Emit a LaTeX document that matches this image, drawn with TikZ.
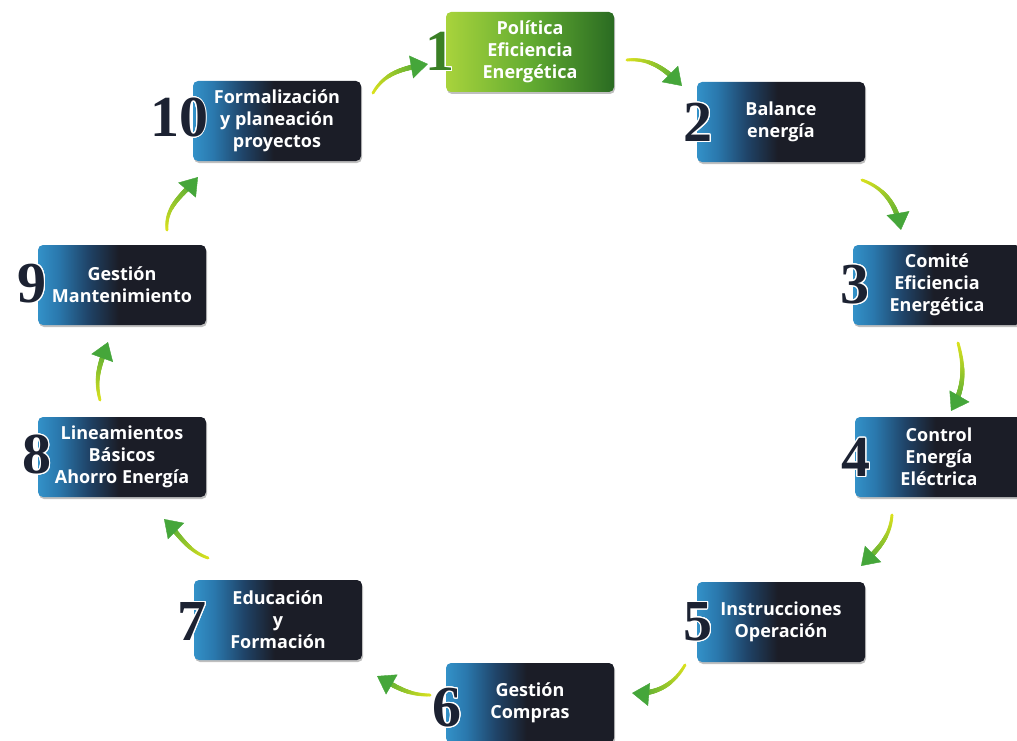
\documentclass[tikz,border=0pt]{standalone}
\usepackage{fontspec}
\setmainfont{Open Sans}
\newfontfamily\numfont{Liberation Serif}
\usepackage{contour}
\contourlength{1pt}
\contournumber{24}
\usetikzlibrary{arrows.meta,shadows,decorations.markings}
\definecolor{bxA}{HTML}{3391C8}
\definecolor{bxB}{HTML}{2A78AD}
\definecolor{bxC}{HTML}{1F4367}
\definecolor{bxD}{HTML}{1B1D27}
\definecolor{gA}{HTML}{A8D33C}
\definecolor{gB}{HTML}{63AC31}
\definecolor{gC}{HTML}{2A6B22}
\definecolor{numcol}{HTML}{1C2232}
\definecolor{numgreen}{HTML}{3A7F25}
\definecolor{arrA}{HTML}{DCE21E}
\definecolor{arrC}{HTML}{45A63A}
\pgfdeclarehorizontalshading{boxshade}{100bp}{color(0bp)=(bxA); color(25bp)=(bxA); color(31bp)=(bxB); color(40bp)=(bxC); color(49bp)=(bxD); color(75bp)=(bxD); color(100bp)=(bxD)}
\pgfdeclarehorizontalshading{greenshade}{100bp}{color(0bp)=(gA); color(25bp)=(gA); color(50bp)=(gB); color(75bp)=(gC); color(100bp)=(gC)}
\newcommand\boxfont{\fontsize{18}{22}\selectfont\bfseries}
\newcommand\bignum{\numfont\bfseries\fontsize{58}{58}\selectfont}
\tikzset{
  box/.style={rectangle, rounded corners=5pt, minimum width=168pt, minimum height=80pt,
    inner sep=0pt, text=white, align=center, font=\boxfont, shading=boxshade,
    drop shadow={shadow xshift=1pt, shadow yshift=-2pt, opacity=.25, fill=black}},
  greenbox/.style={box, shading=greenshade},
  numlbl/.style={inner sep=0pt, font=\bignum, text=numcol},
  gradarrow/.style={decoration={markings,
     mark=between positions 0 and -9pt step 0.6pt with {%
       \pgfmathsetmacro\fr{\pgfkeysvalueof{/pgf/decoration/mark info/distance from start}/\pgfdecoratedpathlength}%
       \pgfmathtruncatemacro\pc{100*\fr}%
       \pgfmathsetmacro\rr{1.5+1.4*\fr}%
       \fill[arrC!\pc!arrA] (0,0) circle (\rr pt);},
     mark=at position 1 with {\arrow[arrC]{Triangle[length=17pt,width=23pt]}}},
     postaction=decorate},
}
\newcommand\garrow[3]{\path[gradarrow] (#1) #3 (#2);}
\begin{document}
\begin{tikzpicture}[x=1pt,y=1pt]
\path[use as bounding box] (0,0) rectangle (1017,-741);
\clip (0,0) rectangle (1017,-741);
% boxes
\node[greenbox] (b1) at (530,-52) {Política\\Eficiencia\\Energética};
\node[box] (b2) at (781,-122) {Balance\\energía};
\node[box] (b3) at (937,-285) {Comité\\Eficiencia\\Energética};
\node[box] (b4) at (939,-457) {Control\\Energía\\Eléctrica};
\node[box] (b5) at (781,-622) {Instrucciones\\Operación};
\node[box] (b6) at (530,-703) {Gestión\\Compras};
\node[box] (b7) at (278,-620) {Educación\\y\\Formación};
\node[box] (b8) at (122,-457) {Lineamientos\\Básicos\\Ahorro Energía};
\node[box] (b9) at (122,-285) {Gestión\\Mantenimiento};
\node[box] (b10) at (277,-121) {Formalización\\y planeación\\proyectos};
% numbers
\node[numlbl, text=numgreen] (n1) at (440,-52) {\contour{white}{1}};
\node[numlbl] (n2) at (698,-123) {\contour{white}{2}};
\node[numlbl] (n3) at (855,-285) {\contour{white}{3}};
\node[numlbl] (n4) at (856,-458) {\contour{white}{4}};
\node[numlbl] (n5) at (698,-622) {\contour{white}{5}};
\node[numlbl] (n6) at (447,-708) {\contour{white}{6}};
\node[numlbl] (n7) at (192,-622) {\contour{white}{7}};
\node[numlbl] (n8) at (37,-455) {\contour{white}{8}};
\node[numlbl] (n9) at (32,-284) {\contour{white}{9}};
\node[numlbl] (n10) at (179,-118) {\contour{white}{10}};
% arrow ends
\coordinate (t10) at (373,-93);  \coordinate (h10) at (428,-64);
\coordinate (t1) at (627,-60);   \coordinate (h1) at (682,-86);
\coordinate (t2) at (862,-180);  \coordinate (h2) at (901,-230);
\coordinate (t3) at (958,-343);  \coordinate (h3) at (951,-411);
\coordinate (t4) at (892,-515);  \coordinate (h4) at (861,-566);
\coordinate (t5) at (685,-665);  \coordinate (h5) at (632,-693);
\coordinate (t6) at (430,-695);  \coordinate (h6) at (377,-676);
\coordinate (t7) at (208,-558);  \coordinate (h7) at (164,-519);
\coordinate (t8) at (100,-400);  \coordinate (h8) at (108,-342);
\coordinate (t9) at (167,-230);  \coordinate (h9) at (198,-177);
% arrows
\garrow{t10}{h10}{to[out=60,in=190]}
\garrow{t1}{h1}{to[out=5,in=135]}
\garrow{t2}{h2}{to[out=-20,in=100]}
\garrow{t3}{h3}{to[out=-75,in=60]}
\garrow{t4}{h4}{to[out=-95,in=45]}
\garrow{t5}{h5}{to[out=-120,in=-5]}
\garrow{t6}{h6}{to[out=180,in=-30]}
\garrow{t7}{h7}{to[out=160,in=-45]}
\garrow{t8}{h8}{to[out=105,in=-110]}
\garrow{t9}{h9}{to[out=95,in=-130]}
\end{tikzpicture}
\end{document}
